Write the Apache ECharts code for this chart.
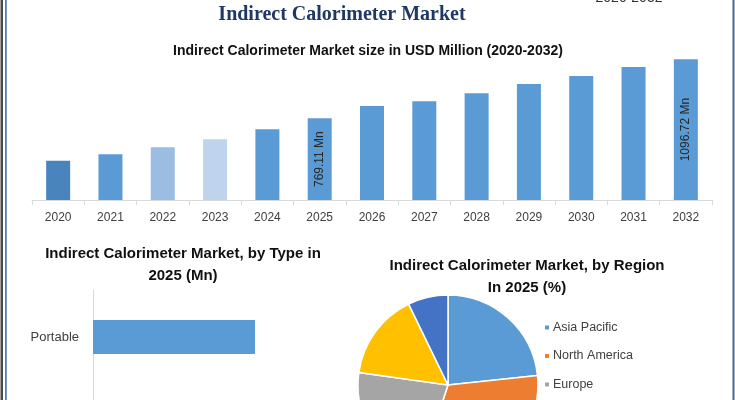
<!DOCTYPE html>
<html>
<head>
<meta charset="utf-8">
<script src="https://cdn.jsdelivr.net/npm/echarts@6/dist/echarts.min.js"></script>
<style>
html,body{margin:0;padding:0;background:#fff;}
#c{width:735px;height:400px;}
</style>
</head>
<body>
<div id="c"></div>
<script>
// ---- data ----
const years = ['2020','2021','2022','2023','2024','2025','2026','2027','2028','2029','2030','2031','2032'];
const marketSize = [533.6, 569.0, 608.0, 652.5, 708.0, 769.11, 837.4, 863.5, 908.0, 959.6, 1004.0, 1054.0, 1096.72];
const labelledYears = ['2025', '2032'];
const typeCategories = ['Portable', 'Stationary'];
const typeValues = [405, 364];
const regions = ['Asia Pacific', 'North America', 'Europe', 'Middle East and Africa', 'South America'];
const regionShares = [23.3, 31.8, 22.1, 15.6, 7.2];

const barColors = ['#4a84bd','#5b9bd5','#9bbde1','#bfd4ec','#5b9bd5','#5b9bd5','#5b9bd5','#5b9bd5','#5b9bd5','#5b9bd5','#5b9bd5','#5b9bd5','#5b9bd5'];
const pieColors = ['#5b9bd5','#ed7d31','#a5a5a5','#ffc000','#4472c4'];

const chart = echarts.init(document.getElementById('c'));
const sans = 'Liberation Sans';
chart.setOption({
  animation: false,
  backgroundColor: '#ffffff',
  title: [
    { text: 'Indirect Calorimeter Market', left: 342, top: 5, padding: 0, textAlign: 'center',
      textStyle: { fontFamily: 'Liberation Serif', fontWeight: 'bold', fontSize: 20, color: '#1f3864' } },
    { text: '2020-2032', left: 629, top: -9, padding: 0, textAlign: 'center',
      textStyle: { fontFamily: sans, fontSize: 14, fontWeight: 'normal', color: '#333' } },
    { text: 'Indirect Calorimeter Market size in USD Million (2020-2032)', left: 368, top: 44, padding: 0, textAlign: 'center',
      textStyle: { fontFamily: sans, fontWeight: 'bold', fontSize: 14, color: '#111' } },
    { text: 'Indirect Calorimeter Market, by Type in\n2025 (Mn)', left: 183, top: 243, padding: 0, textAlign: 'center',
      textStyle: { fontFamily: sans, fontWeight: 'bold', fontSize: 15, lineHeight: 22, color: '#111' } },
    { text: 'Indirect Calorimeter Market, by Region\nIn 2025 (%)', left: 527, top: 255, padding: 0, textAlign: 'center',
      textStyle: { fontFamily: sans, fontWeight: 'bold', fontSize: 15, lineHeight: 22, color: '#111' } }
  ],
  legend: {
    orient: 'vertical', left: 543, top: 321, height: 300, itemWidth: 6, itemHeight: 6, itemGap: 15.5,
    icon: 'rect', padding: 0,
    data: regions,
    textStyle: { fontFamily: sans, fontSize: 12.5, color: '#404040', padding: [0, 0, 0, -2] }
  },
  grid: [
    { left: 32, right: 23, top: 50, bottom: 200, outerBoundsMode: 'none' },
    { left: 93, top: 290, width: 240, height: 188, outerBoundsMode: 'none' }
  ],
  xAxis: [
    { type: 'category', gridIndex: 0, data: years, boundaryGap: true,
      axisLine: { lineStyle: { color: '#d9d9d9' } },
      axisTick: { show: true, length: 5, lineStyle: { color: '#d9d9d9' } },
      axisLabel: { fontFamily: sans, fontSize: 12, color: '#404040', margin: 12 } },
    { type: 'value', gridIndex: 1, min: 0, max: 600, show: false, splitLine: { show: false } }
  ],
  yAxis: [
    { type: 'value', gridIndex: 0, min: 315, max: 1148, show: false, splitLine: { show: false } },
    { type: 'category', gridIndex: 1, data: typeCategories, inverse: true,
      axisLine: { lineStyle: { color: '#d9d9d9' } }, axisTick: { show: false },
      axisLabel: { fontFamily: sans, fontSize: 13, color: '#404040', margin: 14 } }
  ],
  series: [
    { type: 'bar', xAxisIndex: 0, yAxisIndex: 0, barWidth: 24,
      data: marketSize.map((v, i) => ({
        value: v,
        itemStyle: { color: barColors[i] },
        label: labelledYears.includes(years[i]) ? {
          show: true, position: 'inside', rotate: 90, formatter: v.toFixed(2) + ' Mn',
          fontFamily: sans, fontSize: 12, color: '#262626'
        } : { show: false }
      })) },
    { type: 'bar', xAxisIndex: 1, yAxisIndex: 1, barWidth: 34,
      itemStyle: { color: '#5b9bd5' },
      data: typeValues },
    { type: 'pie', center: [448, 385], radius: 90, startAngle: 90, clockwise: true,
      label: { show: false }, labelLine: { show: false },
      itemStyle: { borderColor: '#ffffff', borderWidth: 1.5 },
      color: pieColors,
      data: regions.map((r, i) => ({ name: r, value: regionShares[i] })) }
  ],
  graphic: [
    { type: 'rect', shape: { x: 0.5, y: 0, width: 2.5, height: 400 }, style: { fill: '#4a4a4a' }, silent: true },
    { type: 'rect', shape: { x: 5, y: 0, width: 1.8, height: 400 }, style: { fill: '#5b7fa8' }, silent: true },
    { type: 'rect', shape: { x: 732.5, y: 0, width: 2, height: 400 }, style: { fill: '#3e6a9a' }, silent: true }
  ]
});
</script>
</body>
</html>
